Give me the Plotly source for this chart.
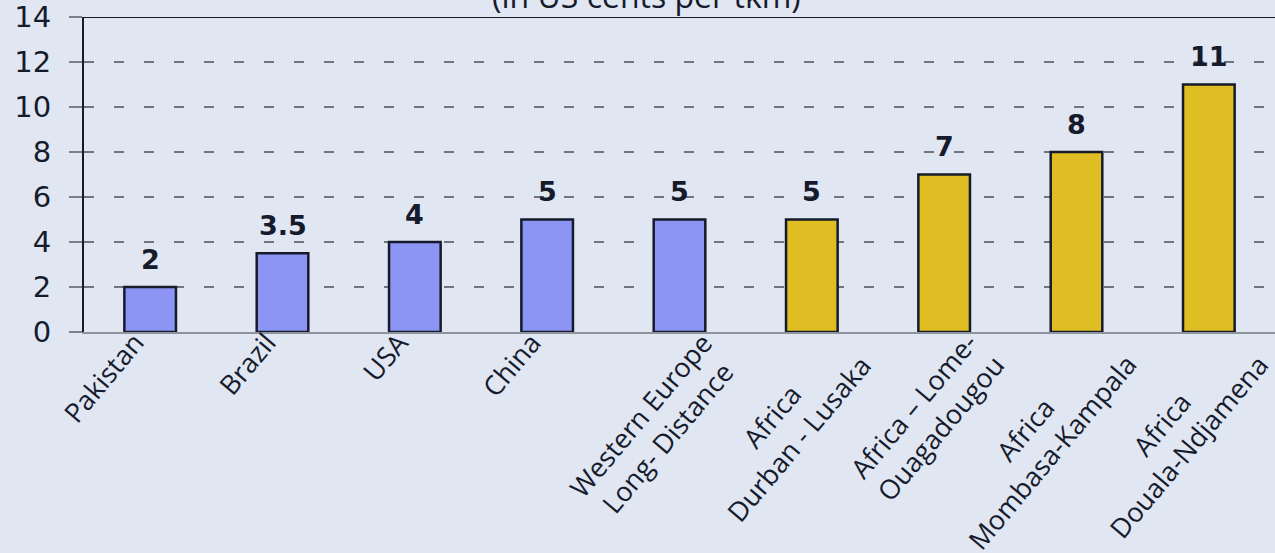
import plotly.graph_objects as go

# ── Data ──────────────────────────────────────────────────────────────────────
CATEGORIES = [
    "Pakistan",
    "Brazil",
    "USA",
    "China",
    "Western Europe<br>Long- Distance",
    "Africa<br>Durban - Lusaka",
    "Africa – Lome-<br>Ouagadougou",
    "Africa<br>Mombasa-Kampala",
    "Africa<br>Douala-Ndjamena",
]
COSTS = [2, 3.5, 4, 5, 5, 5, 7, 8, 11]
VALUE_LABELS = ["2", "3.5", "4", "5", "5", "5", "7", "8", "11"]
REGION = ["other", "other", "other", "other", "other", "africa", "africa", "africa", "africa"]
Y_TICKS = [0, 2, 4, 6, 8, 10, 12, 14]
SUBTITLE = "(in US cents per tkm)"

REGION_COLORS = {"other": "#8C94F4", "africa": "#DEBE22"}
BG = "#E0E6F2"
INK = "#161B2C"
NUM_FONT = "DejaVu Sans"
CAT_SIZE = 27
CAT_ANGLE = -50
# horizontal nudge of the rotated label box, by number of text lines
LABEL_XSHIFT = {1: 4, 2: 70}

fig = go.Figure()
fig.add_trace(go.Bar(
    x=CATEGORIES,
    y=COSTS,
    marker=dict(
        color=[REGION_COLORS[r] for r in REGION],
        line=dict(color=INK, width=2.5),
    ),
    showlegend=False,
    hoverinfo="skip",
))

# value labels above each bar
for cat, val, lab in zip(CATEGORIES, COSTS, VALUE_LABELS):
    fig.add_annotation(
        x=cat, y=val, text=f"<b>{lab}</b>", showarrow=False,
        yanchor="middle", yshift=28,
        font=dict(family=NUM_FONT, size=27, color=INK),
    )

# category labels: rotated text hung under each bar
for cat in CATEGORIES:
    n_lines = cat.count("<br>") + 1
    fig.add_annotation(
        x=cat, xref="x", y=0, yref="paper", text=cat, showarrow=False,
        textangle=CAT_ANGLE, xanchor="right", yanchor="top",
        xshift=LABEL_XSHIFT[n_lines], yshift=10,
        font=dict(family="Open Sans", size=CAT_SIZE, color=INK),
    )

# subtitle, mostly cut off by the top edge
fig.add_annotation(
    xref="x domain", x=(646 - 84) / (1275 - 84), yref="paper", y=1,
    text=SUBTITLE, showarrow=False,
    xanchor="center", yanchor="middle", yshift=22,
    font=dict(family="Open Sans", size=32, color=INK),
)

# dark top border of the plot frame
fig.add_shape(type="line", xref="x domain", yref="y", x0=0, x1=1, y0=14, y1=14,
              line=dict(color=INK, width=2))

fig.update_layout(
    width=1275, height=553,
    margin=dict(l=84, r=0, t=17, b=221, autoexpand=False),
    paper_bgcolor=BG, plot_bgcolor=BG,
    bargap=0.61,
    font=dict(family=NUM_FONT, color=INK),
)
fig.update_xaxes(
    range=[-0.5, len(CATEGORIES) - 0.5],
    showticklabels=False,
    automargin=False,
    showline=True, linecolor="#8E939E", linewidth=1.5,
    showgrid=False, ticks="",
    fixedrange=True,
)
fig.update_yaxes(
    range=[0, 14],
    tickvals=Y_TICKS,
    tickfont=dict(family=NUM_FONT, size=29, color=INK),
    ticks="outside", ticklen=13, tickcolor="#7A7F8A", tickwidth=1.5,
    ticklabelstandoff=12,
    automargin=False,
    showline=True, linecolor=INK, linewidth=2,
    showgrid=True, gridcolor="#6F7480", gridwidth=1.5, griddash="10px,20px",
    zeroline=False,
    fixedrange=True,
)

fig.write_html("out.html", config={"displayModeBar": False},
               post_script="document.body.style.margin='0';")
